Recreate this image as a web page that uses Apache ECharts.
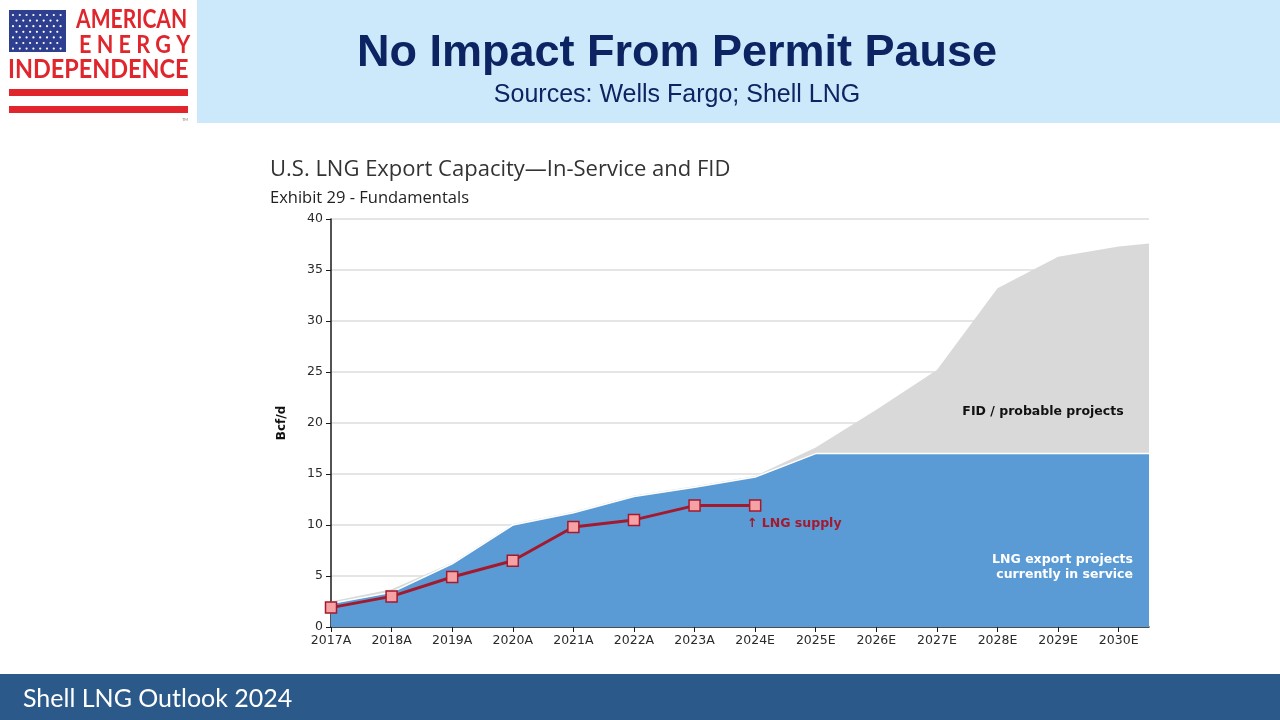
<!DOCTYPE html>
<html>
<head>
<meta charset="utf-8">
<title>No Impact From Permit Pause</title>
<script src="https://cdn.jsdelivr.net/npm/echarts@6/dist/echarts.min.js"></script>
<style>
  html, body { margin: 0; padding: 0; background: #fff; }
  #chart { width: 1280px; height: 720px; }
</style>
</head>
<body>
<div id="chart"></div>
<script>
// categories along the x axis (index 0..13), plus the right edge of the plot at 13.5
const years = ["2017A", "2018A", "2019A", "2020A", "2021A", "2022A", "2023A",
  "2024E", "2025E", "2026E", "2027E", "2028E", "2029E", "2030E"];
const xPos = [0, 1, 2, 3, 4, 5, 6, 7, 8, 9, 10, 11, 12, 13, 13.5];

// total capacity incl. FID / probable projects (top of grey area)
const totalCapacity = [2.5, 3.7, 6.3, 10.1, 11.3, 12.9, 13.8, 14.8, 17.6, 21.3, 25.2, 33.2, 36.3, 37.3, 37.6];
// projects currently in service (blue area)
const inService = [2.3, 3.4, 6.2, 10.0, 11.2, 12.8, 13.7, 14.7, 17.0, 17.0, 17.0, 17.0, 17.0, 17.0, 17.0];
// LNG supply (red line), 2017A..2024E
const lngSupply = [1.9, 3.0, 4.9, 6.5, 9.8, 10.5, 11.9, 11.9];

const yTicks = [0, 5, 10, 15, 20, 25, 30, 35, 40];

const pairs = (vals) => vals.map((v, i) => [xPos[i], v]);

// flag stars for the logo
const stars = [];
for (let r = 0; r < 7; r++) {
  for (let c = 0; c < 8; c++) {
    const off = r % 2 ? 3.5 : 0;
    const cx = 13 + c * 6.8 + off;
    if (cx > 63) continue;
    stars.push({
      type: "circle",
      shape: { cx: cx, cy: 15 + r * 5.6, r: 1.1 },
      style: { fill: "#ffffff" }
    });
  }
}

const chart = echarts.init(document.getElementById("chart"));

chart.setOption({
  backgroundColor: "#ffffff",
  animation: false,
  grid: { left: 331, right: 131, top: 219, bottom: 93 },
  xAxis: {
    type: "value",
    min: 0,
    max: 13.5,
    interval: 1,
    splitLine: { show: false },
    axisLine: { lineStyle: { color: "#1a1a1a", width: 1.5 } },
    axisTick: { show: true, length: 5, customValues: years.map((y, i) => i), lineStyle: { color: "#1a1a1a" } },
    axisLabel: {
      customValues: years.map((y, i) => i),
      formatter: (v) => years[v] || "",
      color: "#2a2a2a",
      fontSize: 12.5,
      fontFamily: "DejaVu Sans",
      margin: 7
    }
  },
  yAxis: {
    type: "value",
    min: 0,
    max: 40,
    interval: 5,
    name: "Bcf/d",
    nameLocation: "middle",
    nameRotate: 90,
    nameGap: 43,
    nameTextStyle: { fontSize: 12, fontWeight: "bold", color: "#111", fontFamily: "DejaVu Sans" },
    axisLine: { show: true, lineStyle: { color: "#1a1a1a", width: 1.5 } },
    axisTick: { show: true, length: 5, lineStyle: { color: "#1a1a1a" } },
    axisLabel: {
      color: "#2a2a2a",
      fontSize: 12.5,
      fontFamily: "DejaVu Sans",
      margin: 8,
      formatter: (v) => (yTicks.indexOf(v) >= 0 ? String(v) : "")
    },
    splitLine: { lineStyle: { color: "#dcdcdc", width: 1.5 } }
  },
  series: [
    {
      name: "FID / probable projects",
      type: "line",
      data: pairs(totalCapacity),
      symbol: "none",
      lineStyle: { width: 0 },
      areaStyle: { color: "#d9d9d9", opacity: 1 },
      z: 2
    },
    {
      name: "LNG export projects currently in service",
      type: "line",
      data: pairs(inService),
      symbol: "none",
      lineStyle: { color: "#ffffff", width: 1.5 },
      areaStyle: { color: "#5b9bd5", opacity: 1 },
      z: 3
    },
    {
      name: "LNG supply",
      type: "line",
      data: pairs(lngSupply),
      symbol: "rect",
      symbolSize: 11,
      lineStyle: { color: "#a3192e", width: 3 },
      itemStyle: { color: "#f6a1a4", borderColor: "#a3192e", borderWidth: 1.5 },
      z: 5
    }
  ],
  graphic: [
    // header band
    { type: "rect", shape: { x: 197, y: 0, width: 1083, height: 123 }, style: { fill: "#cce9fb" }, z: 0 },
    {
      type: "text", x: 677, y: 54,
      style: { text: "No Impact From Permit Pause", fill: "#0d2463", font: "bold 45px 'Liberation Sans'", align: "center", verticalAlign: "middle" }
    },
    {
      type: "text", x: 677, y: 95,
      style: { text: "Sources: Wells Fargo; Shell LNG", fill: "#0d2463", font: "25px 'Liberation Sans'", align: "center", verticalAlign: "middle" }
    },
    // logo
    { type: "rect", shape: { x: 9, y: 10, width: 57, height: 42 }, style: { fill: "#2f3f8f" } },
    { type: "group", children: stars },
    {
      type: "text", x: 76, y: 20, scaleX: 0.81,
      style: { text: "AMERICAN", fill: "#e0262c", font: "bold 26px Lato", verticalAlign: "middle" }
    },
    {
      type: "text", x: 79, y: 45, scaleX: 0.9,
      style: { text: "E N E R G Y", fill: "#e0262c", font: "bold 24px Lato", verticalAlign: "middle" }
    },
    {
      type: "text", x: 8, y: 70, scaleX: 0.9,
      style: { text: "INDEPENDENCE", fill: "#e0262c", font: "bold 26px Lato", verticalAlign: "middle" }
    },
    { type: "rect", shape: { x: 9, y: 89, width: 179, height: 7 }, style: { fill: "#e0262c" } },
    { type: "rect", shape: { x: 9, y: 106, width: 179, height: 7 }, style: { fill: "#e0262c" } },
    {
      type: "text", x: 182, y: 118,
      style: { text: "TM", fill: "#777", font: "4px Lato" }
    },
    // chart titles
    {
      type: "text", x: 270, y: 170,
      style: { text: "U.S. LNG Export Capacity\u2014In-Service and FID", fill: "#333", font: "22px 'Open Sans'", verticalAlign: "middle" }
    },
    {
      type: "text", x: 270, y: 198,
      style: { text: "Exhibit 29 - Fundamentals", fill: "#222", font: "16.5px 'Open Sans'", verticalAlign: "middle" }
    },
    // annotations
    {
      type: "text", x: 1043, y: 412, z: 10,
      style: { text: "FID / probable projects", fill: "#111", font: "bold 12.5px 'DejaVu Sans'", align: "center", verticalAlign: "middle" }
    },
    {
      type: "text", x: 1133, y: 567, z: 10,
      style: { text: "LNG export projects\ncurrently in service", fill: "#ffffff", font: "bold 12.5px 'DejaVu Sans'", align: "right", verticalAlign: "middle", lineHeight: 15 }
    },
    {
      type: "text", x: 747, y: 524, z: 10,
      style: { text: "\u2191 LNG supply", fill: "#a3192e", font: "bold 12.5px 'DejaVu Sans'", verticalAlign: "middle" }
    },
    // footer band
    { type: "rect", shape: { x: 0, y: 674, width: 1280, height: 46 }, style: { fill: "#2b5a8a" } },
    {
      type: "text", x: 23, y: 699,
      style: { text: "Shell LNG Outlook 2024", fill: "#ffffff", font: "25px Lato", verticalAlign: "middle" }
    }
  ]
});
</script>
</body>
</html>
